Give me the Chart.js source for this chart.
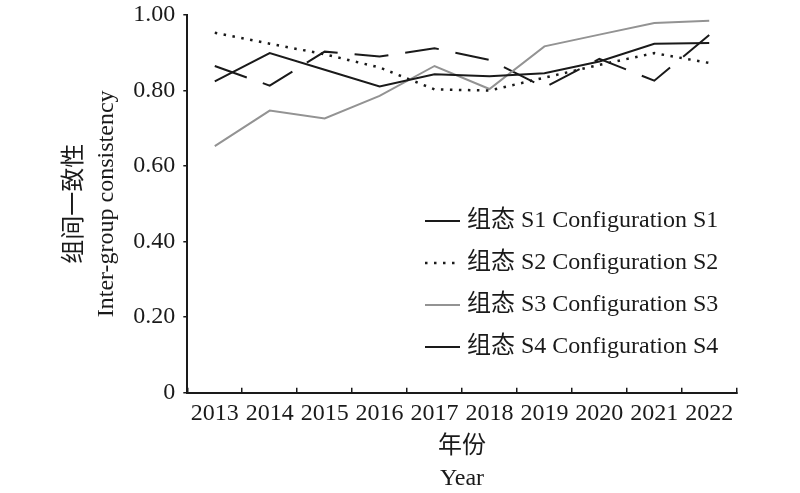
<!DOCTYPE html>
<html>
<head>
<meta charset="utf-8">
<script src="https://cdn.jsdelivr.net/npm/chart.js@4/dist/chart.umd.min.js"></script>
<style>
  html, body { margin: 0; padding: 0; background: #fff; }
  #wrap { width: 800px; height: 493px; position: relative; }
</style>
</head>
<body>
<div id="wrap"><canvas id="c"></canvas></div>
<script>
// ---- data ----
const years = ['2013','2014','2015','2016','2017','2018','2019','2020','2021','2022'];
const seriesLabels = ['组态 S1 Configuration S1','组态 S2 Configuration S2','组态 S3 Configuration S3','组态 S4 Configuration S4'];
const s1 = [0.824, 0.899, 0.855, 0.811, 0.843, 0.838, 0.846, 0.877, 0.924, 0.926];
const s2 = [0.953, 0.924, 0.896, 0.861, 0.803, 0.800, 0.834, 0.868, 0.899, 0.873];
const s3 = [0.653, 0.747, 0.726, 0.786, 0.865, 0.804, 0.917, 0.948, 0.979, 0.985];
const s4 = [0.865, 0.813, 0.903, 0.890, 0.912, 0.881, 0.808, 0.884, 0.826, 0.947];
const yTitle = ['组间一致性', 'Inter-group consistency'];
const xTitle = ['年份', 'Year'];

const FAMILY = "'Liberation Serif', 'Noto Sans CJK SC', serif";
const INK = '#1a1a1a';
const FS = 24;

const legendPlugin = {
  id: 'customLegend',
  afterDraw(chart) {
    const ctx = chart.ctx;
    const x0 = 425, x1 = 460, tx = 467, top = 221, step = 42;
    chart.data.datasets.forEach((ds, i) => {
      const y = top + i * step;
      ctx.save();
      ctx.strokeStyle = ds.borderColor;
      ctx.lineWidth = ds.borderWidth;
      ctx.setLineDash(ds.legendDash || []);
      ctx.beginPath();
      ctx.moveTo(x0, y);
      ctx.lineTo(x1, y);
      ctx.stroke();
      ctx.setLineDash([]);
      ctx.fillStyle = INK;
      ctx.font = FS + 'px ' + FAMILY;
      ctx.textBaseline = 'middle';
      ctx.textAlign = 'left';
      ctx.fillText(ds.label, tx, y);
      ctx.restore();
    });
  }
};

function noPad(scale) {
  scale.paddingTop = 0;
  scale.paddingBottom = 0;
  scale.paddingLeft = 0;
  scale.paddingRight = 0;
}

new Chart(document.getElementById('c'), {
  type: 'line',
  data: {
    labels: years,
    datasets: [
      { label: seriesLabels[0], data: s1, borderColor: INK, borderWidth: 2, pointRadius: 0, tension: 0, fill: false },
      { label: seriesLabels[1], data: s2, borderColor: INK, borderWidth: 2.5, borderDash: [2.5, 6.5], legendDash: [2.5, 6.5], pointRadius: 0, tension: 0, fill: false },
      { label: seriesLabels[2], data: s3, borderColor: '#939393', borderWidth: 2, pointRadius: 0, tension: 0, fill: false },
      { label: seriesLabels[3], data: s4, borderColor: INK, borderWidth: 2, borderDash: [34, 17], legendDash: [], pointRadius: 0, tension: 0, fill: false }
    ]
  },
  options: {
    responsive: true,
    maintainAspectRatio: false,
    animation: false,
    layout: { padding: { left: 59, right: 63.3, top: 15, bottom: 0 } },
    plugins: {
      legend: { display: false },
      tooltip: { enabled: false },
      title: { display: false }
    },
    scales: {
      x: {
        type: 'category',
        offset: true,
        grid: { offset: true, drawOnChartArea: false, drawTicks: true, tickLength: -5, color: INK, lineWidth: 1.5 },
        border: { display: true, color: INK, width: 2 },
        ticks: { color: INK, font: { family: FAMILY, size: FS }, padding: 12, maxRotation: 0, autoSkip: false },
        title: { display: true, text: xTitle, color: INK, font: { family: FAMILY, size: FS, lineHeight: 1.3333 }, padding: { top: 0, bottom: -2 } },
        afterFit(scale) { scale.height = 100.3; noPad(scale); }
      },
      y: {
        min: 0,
        max: 1,
        grid: { drawOnChartArea: false, drawTicks: true, tickLength: 4, color: INK, lineWidth: 1.5 },
        border: { display: true, color: INK, width: 2 },
        ticks: {
          stepSize: 0.2,
          color: INK,
          padding: 8,
          font: { family: FAMILY, size: FS },
          callback: (v) => (Math.abs(v) < 1e-9 ? '0' : Number(v).toFixed(2))
        },
        title: { display: true, text: yTitle, color: INK, font: { family: FAMILY, size: FS, lineHeight: 1.3333 }, padding: { top: 0, bottom: 0 } },
        afterFit(scale) { scale.width = 128.3; noPad(scale); }
      }
    }
  },
  plugins: [legendPlugin]
});
</script>
</body>
</html>
